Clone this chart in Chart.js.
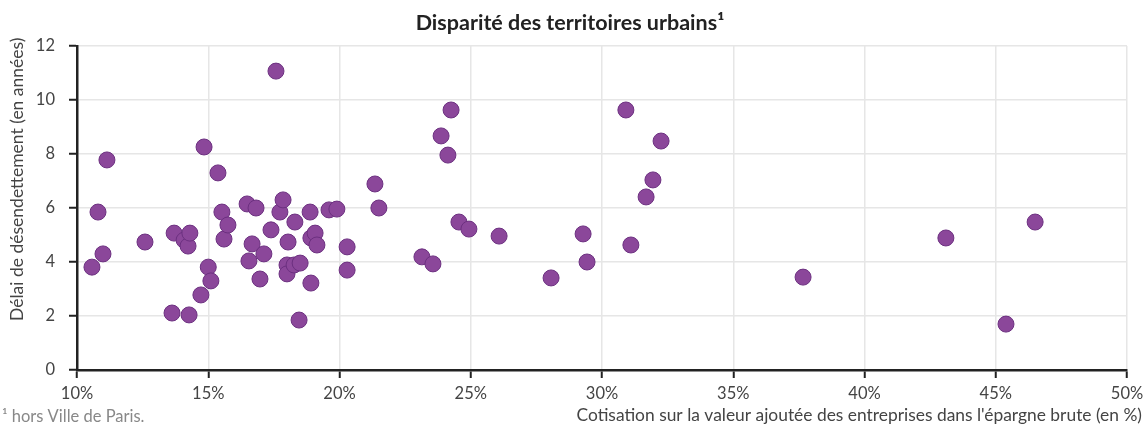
<!DOCTYPE html>
<html>
<head>
<meta charset="utf-8">
<script src="https://cdn.jsdelivr.net/npm/chart.js@4"></script>
<style>
  html, body { margin: 0; padding: 0; background: #fff; }
  #wrap { width: 1144px; height: 428px; position: relative; }
</style>
</head>
<body>
<div id="wrap"><canvas id="scatterChart"></canvas></div>
<script>
// cotisation sur la VA (en %) / délai de désendettement (en années)
const cvaShare = [
  10.57, 10.8, 10.99, 11.14, 12.59, 13.62, 13.7, 14.08, 14.23, 14.3,
  14.27, 14.72, 14.84, 15.0, 15.1, 15.37, 15.52, 15.6, 15.75, 16.48,
  16.55, 16.67, 16.82, 16.97, 17.12, 17.39, 17.58, 17.73, 17.85, 18.04,
  18.0, 18.0, 18.27, 18.3, 18.5, 18.46, 18.91, 18.88, 18.91, 19.07,
  19.14, 19.6, 19.9, 20.29, 20.29, 21.35, 21.5, 23.14, 23.56, 23.87,
  24.13, 24.25, 24.55, 24.93, 26.08, 28.06, 29.28, 29.43, 30.91, 31.1,
  31.68, 31.94, 32.25, 37.66, 43.1, 45.39, 46.5
];
const debtDelay = [
  3.81, 5.85, 4.3, 7.78, 4.74, 2.11, 5.07, 4.81, 4.59, 5.07,
  2.04, 2.78, 8.26, 3.81, 3.3, 7.3, 5.85, 4.85, 5.37, 6.15,
  4.04, 4.67, 6.0, 3.37, 4.3, 5.19, 11.07, 5.85, 6.3, 4.74,
  3.89, 3.56, 3.89, 5.48, 3.96, 1.85, 3.22, 5.85, 4.89, 5.07,
  4.63, 5.93, 5.96, 4.56, 3.7, 6.89, 6.0, 4.19, 3.93, 8.67,
  7.96, 9.63, 5.48, 5.22, 4.96, 3.41, 5.04, 4.0, 9.63, 4.63,
  6.41, 7.04, 8.48, 3.44, 4.89, 1.7, 5.48
];
const xTicks = [10, 15, 20, 25, 30, 35, 40, 45, 50];
const yTicks = [0, 2, 4, 6, 8, 10, 12];

const titleText = "Disparité des territoires urbains¹";
const yTitle = "Délai de désendettement (en années)";
const xTitle = "Cotisation sur la valeur ajoutée des entreprises dans l'épargne brute (en %)";
const footnote = "¹ hors Ville de Paris.";

const FONT = "Lato, 'Open Sans', sans-serif";

// textes autour du graphique
const textPlugin = {
    id: "extraText",
    afterDraw(chart) {
        const ctx = chart.ctx;
        ctx.save();
        ctx.fillStyle = "#222";
        ctx.font = "bold 21.5px " + FONT;
        ctx.textAlign = "center";
        ctx.textBaseline = "middle";
        ctx.fillText(titleText, 570, 23);

        ctx.fillStyle = "#444";
        ctx.font = "17.4px " + FONT;
        ctx.textAlign = "right";
        ctx.fillText(xTitle, 1142, 415);

        ctx.fillStyle = "#888";
        ctx.font = "16.5px " + FONT;
        ctx.textAlign = "left";
        ctx.fillText(footnote, 2, 417);

        ctx.fillStyle = "#444";
        ctx.font = "17.5px " + FONT;
        ctx.translate(17, 321);
        ctx.rotate(-Math.PI / 2);
        ctx.textAlign = "left";
        ctx.fillText(yTitle, 0, 0);
        ctx.restore();
    }
};

function main() {
    const points = cvaShare.map((x, i) => ({ x: x, y: debtDelay[i] }));
    const ctx = document.getElementById("scatterChart").getContext("2d");

    new Chart(ctx, {
        type: "scatter",
        data: {
            datasets: [{
                data: points,
                backgroundColor: "#8b479a",
                borderColor: "#6c3080",
                borderWidth: 1,
                pointRadius: 8,
                pointHoverRadius: 8
            }]
        },
        options: {
            responsive: false,
            animation: false,
            layout: { padding: { left: 0, top: 46, right: 17, bottom: 0 } },
            plugins: {
                legend: { display: false },
                tooltip: { enabled: false }
            },
            scales: {
                x: {
                    type: "linear",
                    min: 10,
                    max: 50,
                    afterBuildTicks: (scale) => { scale.ticks = xTicks.map(v => ({ value: v })); },
                    afterFit: (scale) => {
                        scale.height = 58;
                        scale.paddingLeft = 0;
                        scale.paddingRight = 0;
                    },
                    grid: { color: "#e6e6e6", lineWidth: 1.5, tickLength: 8, tickColor: "#222", tickWidth: 2 },
                    border: { color: "#222", width: 2.5 },
                    ticks: {
                        padding: 6,
                        color: "#444",
                        font: { family: FONT, size: 16.5 },
                        callback: (v) => v + "%"
                    }
                },
                y: {
                    type: "linear",
                    min: 0,
                    max: 12,
                    afterBuildTicks: (scale) => { scale.ticks = yTicks.map(v => ({ value: v })); },
                    afterFit: (scale) => {
                        scale.width = 77;
                        scale.paddingTop = 0;
                        scale.paddingBottom = 0;
                    },
                    grid: { color: "#e6e6e6", lineWidth: 1.5, tickLength: 8, tickColor: "#222", tickWidth: 2 },
                    border: { color: "#222", width: 2.5 },
                    ticks: {
                        padding: 14,
                        color: "#444",
                        font: { family: FONT, size: 16.5 }
                    }
                }
            }
        },
        plugins: [textPlugin]
    });
}

document.addEventListener("DOMContentLoaded", () => {
    const canvas = document.getElementById("scatterChart");
    canvas.width = 1144;
    canvas.height = 428;
    main();
});
</script>
</body>
</html>
